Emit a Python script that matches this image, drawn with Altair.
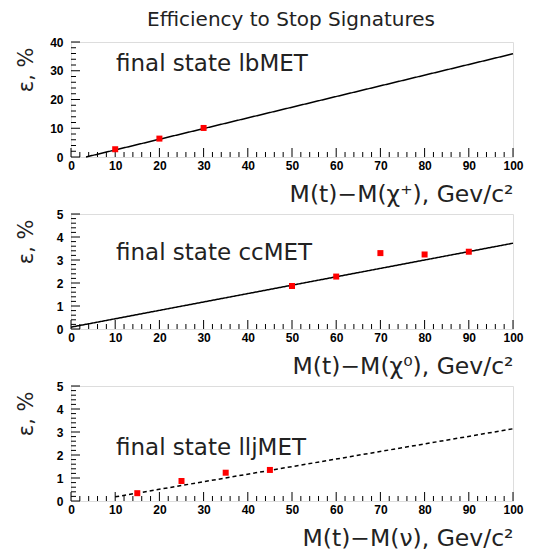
import altair as alt
import pandas as pd

# ---- data ----
title_text = "Efficiency to Stop Signatures"

x_major = [0, 10, 20, 30, 40, 50, 60, 70, 80, 90, 100]
x_minor = [v for v in range(0, 101, 2) if v % 10 != 0]

# panel 1: lbMET
p1_label = "final state lbMET"
p1_xtitle = "M(t)\u2212M(\u03c7\u207a), Gev/c\u00b2"
p1_px = [10, 20, 30]
p1_py = [2.7, 6.4, 10.1]
p1_lx = [3.4, 100]
p1_ly = [0.0, 35.9]
p1_ymajor = [0, 10, 20, 30, 40]
p1_yminor = [v for v in range(0, 41, 2) if v % 10 != 0]

# panel 2: ccMET
p2_label = "final state ccMET"
p2_xtitle = "M(t)\u2212M(\u03c7\u2070), Gev/c\u00b2"
p2_px = [50, 60, 70, 80, 90]
p2_py = [1.87, 2.28, 3.30, 3.24, 3.36]
p2_lx = [0, 100]
p2_ly = [0.08, 3.73]
p2_ymajor = [0, 1, 2, 3, 4, 5]
p2_yminor = [round(v * 0.2, 1) for v in range(0, 26) if v % 5 != 0]

# panel 3: lljMET
p3_label = "final state lljMET"
p3_xtitle = "M(t)\u2212M(\u03bd), Gev/c\u00b2"
p3_px = [15, 25, 35, 45]
p3_py = [0.34, 0.87, 1.23, 1.35]
p3_lx = [10, 100]
p3_ly = [0.18, 3.14]
p3_ymajor = p2_ymajor
p3_yminor = p2_yminor

W, H = 442, 115
TEXT_FONT = "DejaVu Sans"
LABEL_FONT = "Liberation Sans"


def panel(px, py, lx, ly, ymax, ymajor, yminor, label, xtitle, text_y, dashed):
    xs = alt.Scale(domain=[0, 100], nice=False, zero=False)
    ys = alt.Scale(domain=[0, ymax], nice=False, zero=False)
    xaxis = alt.Axis(values=x_major, ticks=False, domain=False, grid=False,
                     labelFont=LABEL_FONT, labelFontSize=12, labelFontWeight="bold",
                     labelColor="black", labelPadding=3, labelFlush=False, labelOverlap=False,
                     title=xtitle, titleFont=TEXT_FONT, titleFontSize=23.5,
                     titleFontWeight="normal", titleColor="#222",
                     titleX=W, titleY=44, titleAlign="right", titleBaseline="alphabetic")
    yaxis = alt.Axis(values=ymajor, ticks=False, domain=False, grid=False,
                     labelFont=LABEL_FONT, labelFontSize=12, labelFontWeight="bold",
                     labelColor="black", labelPadding=8, labelOverlap=False, labelFlush=False,
                     labelBound=False,
                     title="\u03b5, %", titleFont=TEXT_FONT, titleFontSize=21,
                     titleFontWeight="normal", titleColor="#222", titleAngle=270,
                     titleX=-39, titleY=5, titleAlign="right", titleBaseline="alphabetic")

    X = lambda f: alt.X(f, scale=xs, axis=xaxis)
    Y = lambda f: alt.Y(f, scale=ys, axis=yaxis)

    line_df = pd.DataFrame({"x": lx, "y": ly})
    pt_df = pd.DataFrame({"x": px, "y": py})

    line = alt.Chart(line_df).mark_line(
        color="black", strokeWidth=1.5, strokeDash=[4, 3] if dashed else [1, 0]
    ).encode(x=X("x:Q"), y=Y("y:Q"))
    pts = alt.Chart(pt_df).mark_square(color="red", size=36, opacity=1).encode(
        x=X("x:Q"), y=Y("y:Q"))

    xmaj = alt.Chart(pd.DataFrame({"x": x_major})).mark_rule(color="black", strokeWidth=1).encode(
        x=X("x:Q"), y=alt.value(H), y2=alt.value(H - 9))
    xmin = alt.Chart(pd.DataFrame({"x": x_minor})).mark_rule(color="black", strokeWidth=1).encode(
        x=X("x:Q"), y=alt.value(H), y2=alt.value(H - 5))
    ymaj = alt.Chart(pd.DataFrame({"y": ymajor})).mark_rule(color="black", strokeWidth=1).encode(
        y=Y("y:Q"), x=alt.value(0), x2=alt.value(9))
    ymin = alt.Chart(pd.DataFrame({"y": yminor})).mark_rule(color="black", strokeWidth=1).encode(
        y=Y("y:Q"), x=alt.value(0), x2=alt.value(5))

    txt = alt.Chart(pd.DataFrame({"label": [label]})).mark_text(
        align="left", baseline="alphabetic", font=TEXT_FONT, fontSize=23, color="#222"
    ).encode(x=alt.value(45), y=alt.value(text_y), text="label:N")

    return alt.layer(line, xmaj, xmin, ymaj, ymin, pts, txt).properties(width=W, height=H)


c1 = panel(p1_px, p1_py, p1_lx, p1_ly, 40, p1_ymajor, p1_yminor, p1_label, p1_xtitle, 29, False)
c2 = panel(p2_px, p2_py, p2_lx, p2_ly, 5, p2_ymajor, p2_yminor, p2_label, p2_xtitle, 46, False)
c3 = panel(p3_px, p3_py, p3_lx, p3_ly, 5, p3_ymajor, p3_yminor, p3_label, p3_xtitle, 69, True)

chart = alt.vconcat(c1, c2, c3, spacing=57, bounds="flush").properties(
    title=alt.TitleParams(title_text, font=TEXT_FONT, fontSize=20, fontWeight="normal",
                          color="#222", anchor="middle", offset=6, dx=22),
    padding={"left": 6, "top": 1, "right": 5, "bottom": 0},
).configure_view(stroke="black", strokeWidth=1.5).configure(background="white")

chart.save("out.html", embed_options={"renderer": "svg", "actions": False})
